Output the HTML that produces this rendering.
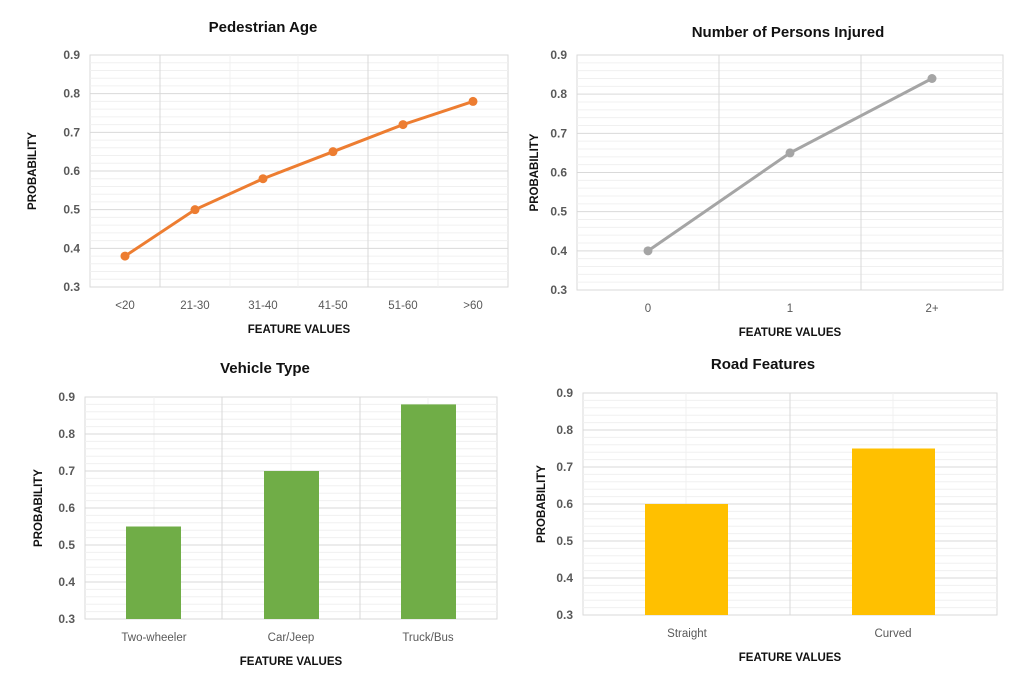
<!DOCTYPE html>
<html><head><meta charset="utf-8"><style>
body{margin:0;background:#fff;}
svg{display:block;font-family:"Liberation Sans",Arial,sans-serif;}
.t{font-size:15px;font-weight:bold;fill:#111;}
.tk{font-size:12px;fill:#595959;font-weight:bold;}
.ct{font-size:11.5px;fill:#595959;}
.ax{font-size:11.5px;font-weight:bold;fill:#111;}
</style></head><body>
<svg id="s" width="1021" height="686" viewBox="0 0 1021 686"></svg>
<script>
var s=document.getElementById('s'),h='';
function chart(o){
  var L=o.L,R=o.R,T=o.T,B=o.B;
  h+='<rect x="'+L+'" y="'+T+'" width="'+(R-L)+'" height="'+(B-T)+'" fill="#fff" stroke="#d9d9d9"/>';
  for(var i=1;i<30;i++){var y=T+(B-T)*i/30; if(i%5) h+='<line x1="'+L+'" x2="'+R+'" y1="'+y+'" y2="'+y+'" stroke="#f0f0f0"/>';}
  (o.vmin||[]).forEach(function(x){h+='<line x1="'+x+'" x2="'+x+'" y1="'+T+'" y2="'+B+'" stroke="#f0f0f0"/>';});
  for(var i=1;i<6;i++){var y=T+(B-T)*i/6; h+='<line x1="'+L+'" x2="'+R+'" y1="'+y+'" y2="'+y+'" stroke="#d9d9d9"/>';}
  o.vmaj.forEach(function(x){h+='<line x1="'+x+'" x2="'+x+'" y1="'+T+'" y2="'+B+'" stroke="#d9d9d9"/>';});
  for(var i=0;i<=6;i++){var y=B-(B-T)*i/6; h+='<text class="tk" x="'+(L-10)+'" y="'+(y+4)+'" text-anchor="end">'+(0.3+i/10).toFixed(1)+'</text>';}
  var Y=function(v){return B-(v-0.3)/0.6*(B-T);};
  if(o.bars){o.bars.forEach(function(b){h+='<rect x="'+b[0]+'" y="'+Y(b[2])+'" width="'+(b[1]-b[0])+'" height="'+(B-Y(b[2]))+'" fill="'+o.col+'"/>';});}
  if(o.pts){var p=o.pts.map(function(q){return q[0]+','+Y(q[1]);}).join(' ');
    h+='<polyline points="'+p+'" fill="none" stroke="'+o.col+'" stroke-width="3"/>';
    o.pts.forEach(function(q){h+='<circle cx="'+q[0]+'" cy="'+Y(q[1])+'" r="4.5" fill="'+o.col+'"/>';});}
  o.cats.forEach(function(c){h+='<text class="ct" x="'+c[0]+'" y="'+(B+22)+'" text-anchor="middle">'+c[1]+'</text>';});
  h+='<text class="t" x="'+o.tx+'" y="'+o.ty+'" text-anchor="middle">'+o.title+'</text>';
  h+='<text class="ax" x="'+((L+R)/2)+'" y="'+(B+46)+'" text-anchor="middle">FEATURE VALUES</text>';
  var cy=(T+B)/2;
  h+='<text class="ax" transform="translate('+(o.yl)+','+cy+') rotate(-90)" text-anchor="middle">PROBABILITY</text>';
}
chart({L:90,R:508,T:55,B:287,vmaj:[160,368],vmin:[230,298,438],col:'#ed7d31',
 pts:[[125,.38],[195,.5],[263,.58],[333,.65],[403,.72],[473,.78]],
 cats:[[125,'&lt;20'],[195,'21-30'],[263,'31-40'],[333,'41-50'],[403,'51-60'],[473,'&gt;60']],
 title:'Pedestrian Age',tx:263,ty:32,yl:36});
chart({L:577,R:1003,T:55,B:290,vmaj:[719,861],vmin:[],col:'#a5a5a5',
 pts:[[648,.4],[790,.65],[932,.84]],
 cats:[[648,'0'],[790,'1'],[932,'2+']],
 title:'Number of Persons Injured',tx:788,ty:37,yl:538});
chart({L:85,R:497,T:397,B:619,vmaj:[222,360],vmin:[154,291,428],col:'#70ad47',
 bars:[[126,181,.55],[264,319,.7],[401,456,.88]],
 cats:[[154,'Two-wheeler'],[291,'Car/Jeep'],[428,'Truck/Bus']],
 title:'Vehicle Type',tx:265,ty:373,yl:42});
chart({L:583,R:997,T:393,B:615,vmaj:[790],vmin:[686,893],col:'#ffc000',
 bars:[[645,728,.6],[852,935,.75]],
 cats:[[687,'Straight'],[893,'Curved']],
 title:'Road Features',tx:763,ty:369,yl:545});
s.innerHTML=h;
</script>
</body></html>
